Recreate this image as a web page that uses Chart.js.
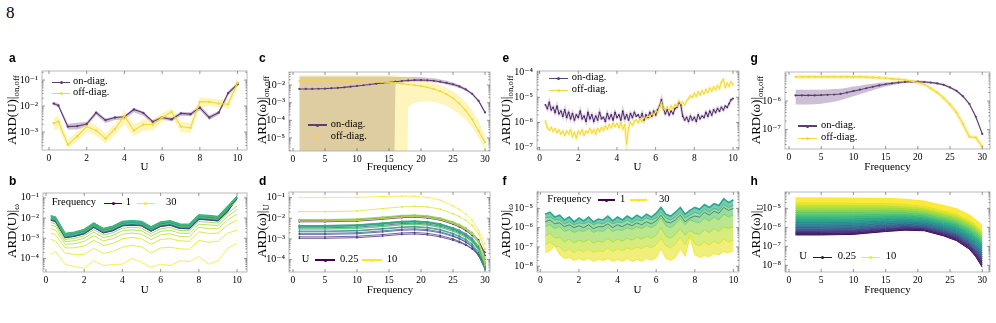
<!DOCTYPE html>
<html><head><meta charset="utf-8">
<script src="https://cdn.jsdelivr.net/npm/chart.js@4/dist/chart.umd.min.js"></script>
<style>
body{margin:0;background:#fff;width:996px;height:323px;position:relative;overflow:hidden;font-family:'Liberation Serif','DejaVu Serif',serif;}
canvas{position:absolute;}
.t{position:absolute;white-space:nowrap;color:#000;}
.lab{position:absolute;font-family:'Liberation Sans',Arial,sans-serif;font-weight:bold;font-size:12px;line-height:12px;}
sub{font-size:0.68em;vertical-align:-0.25em;}
</style></head><body>
<script>
// ---------------- DATA (log10 of the plotted values) ----------------
// Panel a: ARD(U) on/off diagonal vs U
const aU = [0.25,0.5,1,1.5,2,2.5,3,3.5,4,4.5,5,5.5,6,6.5,7,7.5,8,8.5,9,9.5,10];
const aOnLog   = [-1.9,-1.98,-2.79,-2.77,-2.69,-2.25,-2.54,-2.44,-2.41,-2.13,-2.26,-2.6,-2.44,-2.51,-2.28,-2.31,-2.06,-2.44,-2.25,-1.5,-1.16];
const aOnLoLog = [-1.97,-2.04,-2.9,-2.9,-2.78,-2.34,-2.65,-2.54,-2.52,-2.24,-2.37,-2.68,-2.52,-2.59,-2.37,-2.39,-2.16,-2.54,-2.33,-1.58,-1.25];
const aOnHiLog = [-1.84,-1.9,-2.68,-2.64,-2.6,-2.19,-2.48,-2.39,-2.37,-2.06,-2.22,-2.54,-2.37,-2.44,-2.22,-2.24,-1.98,-2.35,-2.19,-1.42,-1.1];
const aOffLog   = [-2.66,-2.59,-3.48,-3.16,-2.79,-2.94,-3.25,-2.88,-2.38,-2.94,-2.71,-2.71,-2.44,-2.23,-2.79,-2.84,-1.84,-1.84,-1.9,-1.93,-1.09];
const aOffLoLog = [-2.95,-2.85,-3.62,-3.35,-3.0,-3.15,-3.45,-3.1,-2.7,-3.15,-2.95,-2.92,-2.62,-2.4,-3.0,-3.05,-2.05,-2.0,-2.05,-2.1,-1.35];
const aOffHiLog = [-2.45,-2.35,-3.3,-2.98,-2.6,-2.74,-3.05,-2.7,-2.12,-2.72,-2.5,-2.52,-2.28,-2.08,-2.6,-2.64,-1.65,-1.7,-1.75,-1.76,-0.9];

// Panel c: ARD(omega) on/off diagonal vs frequency (1..30); -30 = bound below the axis
const cFreq = [1,2,3,4,5,6,7,8,9,10,11,12,13,14,15,16,17,18,19,20,21,22,23,24,25,26,27,28,29,30];
const cOnLog   = [-2.22,-2.22,-2.22,-2.21,-2.2,-2.18,-2.16,-2.13,-2.09,-2.05,-2.01,-1.97,-1.92,-1.88,-1.85,-1.81,-1.77,-1.74,-1.72,-1.72,-1.73,-1.76,-1.81,-1.88,-1.96,-2.08,-2.25,-2.5,-2.9,-3.55];
const cOnHiLog = [-1.52,-1.52,-1.52,-1.52,-1.52,-1.52,-1.52,-1.52,-1.52,-1.52,-1.52,-1.52,-1.52,-1.52,-1.52,-1.55,-1.55,-1.55,-1.55,-1.56,-1.58,-1.62,-1.68,-1.76,-1.86,-1.99,-2.17,-2.43,-2.84,-3.5];
const cOnLoLog = [-30,-30,-30,-30,-30,-30,-30,-30,-30,-30,-30,-30,-30,-30,-30,-1.95,-1.86,-1.82,-1.8,-1.8,-1.81,-1.84,-1.9,-1.97,-2.05,-2.17,-2.33,-2.57,-2.96,-3.6];
const cOffLog   = [-1.78,-1.78,-1.78,-1.78,-1.78,-1.78,-1.78,-1.78,-1.78,-1.78,-1.79,-1.8,-1.81,-1.83,-1.85,-1.88,-1.92,-1.97,-2.01,-2.06,-2.13,-2.22,-2.35,-2.52,-2.75,-3.05,-3.45,-3.95,-4.6,-5.25];
const cOffHiLog = [-1.45,-1.45,-1.45,-1.45,-1.45,-1.45,-1.45,-1.45,-1.45,-1.45,-1.45,-1.45,-1.45,-1.45,-1.45,-1.45,-1.5,-1.55,-1.62,-1.7,-1.78,-1.88,-2.0,-2.15,-2.35,-2.62,-2.98,-3.45,-4.05,-4.85];
const cOffLoLog = [-30,-30,-30,-30,-30,-30,-30,-30,-30,-30,-30,-30,-30,-30,-30,-30,-30,-3.25,-3.0,-2.93,-2.92,-2.96,-3.05,-3.2,-3.4,-3.65,-3.98,-4.42,-5.0,-5.65];

// Panel g: second dataset, ARD(omega) on/off vs frequency
const gFreq = [1,2,3,4,5,6,7,8,9,10,11,12,13,14,15,16,17,18,19,20,21,22,23,24,25,26,27,28,29,30];
const gOnLog   = [-5.8,-5.8,-5.8,-5.8,-5.79,-5.78,-5.77,-5.75,-5.7,-5.65,-5.6,-5.55,-5.5,-5.45,-5.41,-5.38,-5.35,-5.33,-5.32,-5.32,-5.33,-5.35,-5.38,-5.43,-5.52,-5.64,-5.83,-6.1,-6.55,-7.15];
const gOnHiLog = [-5.6,-5.6,-5.6,-5.6,-5.6,-5.59,-5.58,-5.57,-5.53,-5.49,-5.46,-5.42,-5.39,-5.36,-5.34,-5.32,-5.3,-5.29,-5.28,-5.28,-5.29,-5.31,-5.34,-5.39,-5.48,-5.6,-5.79,-6.06,-6.51,-7.1];
const gOnLoLog = [-6.12,-6.12,-6.12,-6.11,-6.09,-6.06,-6.02,-5.97,-5.9,-5.83,-5.76,-5.69,-5.62,-5.55,-5.49,-5.44,-5.4,-5.37,-5.36,-5.36,-5.37,-5.39,-5.42,-5.47,-5.56,-5.68,-5.87,-6.14,-6.6,-7.2];
const gOffLog  = [-5.15,-5.15,-5.15,-5.15,-5.15,-5.15,-5.15,-5.15,-5.15,-5.15,-5.15,-5.16,-5.17,-5.18,-5.2,-5.22,-5.24,-5.26,-5.3,-5.35,-5.42,-5.55,-5.7,-5.89,-6.12,-6.4,-6.8,-7.25,-7.28,-7.6];

// Panel e: second dataset, ARD(U) on/off vs U (U = 0.3 ... 10.0, step 0.1)
const eUStart = 0.3, eUStep = 0.1;
const eOnLog = [-5.3,-5.45,-5.2,-5.5,-5.4,-5.6,-5.35,-5.65,-5.55,-5.75,
 -5.5,-5.8,-5.6,-5.85,-5.65,-5.9,-5.7,-5.8,-5.55,-5.85,
 -5.75,-5.95,-5.6,-5.85,-5.7,-5.95,-5.75,-5.9,-5.6,-5.85,
 -5.8,-5.95,-5.65,-5.85,-5.7,-5.9,-5.6,-5.8,-5.7,-5.9,
 -5.55,-5.85,-5.7,-5.9,-5.65,-5.8,-5.6,-5.75,-5.7,-5.85,
 -5.65,-5.9,-5.7,-5.8,-5.6,-5.75,-5.55,-5.7,-5.5,-5.35,
 -5.1,-5.45,-5.65,-5.5,-5.7,-5.55,-5.65,-5.45,-5.4,-5.2,
 -5.3,-5.75,-5.9,-5.8,-5.95,-5.75,-5.9,-5.8,-5.95,-5.7,
 -5.85,-5.75,-5.8,-5.6,-5.75,-5.55,-5.7,-5.5,-5.6,-5.45,
 -5.55,-5.4,-5.5,-5.35,-5.4,-5.25,-5.1,-5.05];
const eOffLog = [-5.95,-6.2,-6.3,-6.2,-6.35,-6.25,-6.4,-6.3,-6.45,-6.35,
 -6.5,-6.35,-6.45,-6.3,-6.55,-6.4,-6.6,-6.35,-6.45,-6.3,
 -6.5,-6.35,-6.4,-6.25,-6.4,-6.3,-6.45,-6.25,-6.35,-6.2,
 -6.3,-6.15,-6.25,-6.1,-6.2,-6.05,-6.15,-6.05,-6.2,-6.0,
 -6.25,-6.1,-6.85,-6.2,-6.0,-6.1,-5.95,-5.9,-6.0,-5.85,
 -5.95,-5.8,-5.85,-5.75,-5.8,-5.65,-5.7,-5.55,-5.6,-5.4,
 -5.2,-5.45,-5.5,-5.4,-5.5,-5.35,-5.45,-5.3,-5.35,-5.15,
 -5.25,-5.2,-5.3,-5.15,-5.05,-4.95,-5.0,-4.85,-4.95,-4.8,
 -4.9,-4.75,-4.85,-4.7,-4.8,-4.65,-4.75,-4.6,-4.7,-4.55,
 -4.65,-4.4,-4.3,-4.6,-4.45,-4.55,-4.4,-4.5];

// Panels b & d: ARD per (U row, frequency column)
const bdU = [0.25,0.5,1,1.5,2,2.5,3,3.5,4,4.5,5,5.5,6,6.5,7,7.5,8,8.5,9,9.5,10];
const bdFreq = [1,5,10,14,17,19,21,23,25,26,27,28,29,30];
const bdLog = [
 [-2.1,-2.1,-2.07,-1.98,-1.9,-1.88,-1.92,-2.02,-2.22,-2.35,-2.52,-2.75,-3.05,-3.8],
 [-2.17,-2.17,-2.14,-2.05,-1.97,-1.95,-1.99,-2.09,-2.29,-2.42,-2.6,-2.83,-3.15,-3.65],
 [-2.97,-2.97,-2.94,-2.86,-2.78,-2.76,-2.8,-2.9,-3.06,-3.17,-3.3,-3.48,-3.75,-4.3],
 [-2.9,-2.9,-2.87,-2.79,-2.71,-2.69,-2.73,-2.83,-3.0,-3.12,-3.27,-3.47,-3.8,-4.4],
 [-2.78,-2.78,-2.75,-2.66,-2.58,-2.56,-2.6,-2.7,-2.88,-3.0,-3.16,-3.38,-3.8,-4.48],
 [-2.46,-2.46,-2.43,-2.34,-2.26,-2.24,-2.28,-2.38,-2.57,-2.7,-2.87,-3.1,-3.5,-4.12],
 [-2.73,-2.73,-2.7,-2.61,-2.53,-2.51,-2.55,-2.65,-2.84,-2.97,-3.13,-3.36,-3.75,-4.35],
 [-2.62,-2.62,-2.59,-2.5,-2.42,-2.4,-2.44,-2.54,-2.73,-2.86,-3.02,-3.25,-3.65,-4.3],
 [-2.38,-2.38,-2.35,-2.26,-2.18,-2.16,-2.2,-2.3,-2.5,-2.63,-2.8,-3.03,-3.45,-4.28],
 [-2.35,-2.35,-2.32,-2.23,-2.15,-2.13,-2.17,-2.27,-2.46,-2.58,-2.74,-2.96,-3.35,-4.0],
 [-2.38,-2.38,-2.35,-2.26,-2.18,-2.16,-2.2,-2.3,-2.5,-2.63,-2.8,-3.03,-3.43,-4.19],
 [-2.65,-2.65,-2.62,-2.53,-2.45,-2.43,-2.47,-2.57,-2.77,-2.9,-3.07,-3.3,-3.72,-4.44],
 [-2.41,-2.41,-2.38,-2.29,-2.21,-2.19,-2.23,-2.33,-2.53,-2.66,-2.83,-3.06,-3.48,-4.28],
 [-2.35,-2.35,-2.32,-2.23,-2.15,-2.13,-2.17,-2.27,-2.47,-2.6,-2.78,-3.02,-3.45,-4.35],
 [-2.51,-2.51,-2.48,-2.39,-2.31,-2.29,-2.33,-2.43,-2.62,-2.75,-2.91,-3.13,-3.52,-4.12],
 [-2.53,-2.53,-2.5,-2.41,-2.32,-2.3,-2.34,-2.44,-2.63,-2.76,-2.93,-3.15,-3.55,-4.15],
 [-2.06,-2.06,-2.03,-1.94,-1.86,-1.84,-1.88,-1.98,-2.17,-2.3,-2.46,-2.68,-3.1,-3.91],
 [-2.09,-2.09,-2.06,-1.97,-1.89,-1.87,-1.91,-2.01,-2.21,-2.34,-2.52,-2.76,-3.2,-4.28],
 [-2.14,-2.14,-2.11,-2.02,-1.94,-1.92,-1.96,-2.06,-2.25,-2.37,-2.53,-2.75,-3.15,-4.12],
 [-1.68,-1.68,-1.65,-1.53,-1.45,-1.42,-1.45,-1.56,-1.78,-1.92,-2.1,-2.35,-2.75,-3.5],
 [-1.0,-1.0,-0.99,-0.95,-0.93,-0.94,-0.99,-1.12,-1.4,-1.58,-1.8,-2.1,-2.6,-3.25]
];

// Panel f: second dataset, ARD(U) per frequency (U = 0.25 ... 10, step 0.25)
const fUStep = 0.25;
const fFreq = [1,18,22,25,27,29,30];
const fLog = [
 [-5.7,-5.6,-5.8,-5.75,-5.95,-5.85,-6.0,-5.9,-6.0,-5.85,-6.05,-5.95,-5.95,-5.8,-6.0,-5.85,-5.95,-5.8,-5.9,-5.75,-5.85,-5.7,-5.8,-5.65,-5.35,-5.7,-5.75,-5.6,-5.35,-5.7,-5.5,-5.4,-5.45,-5.2,-5.35,-5.15,-5.25,-4.95,-5.1,-5.0],
 [-5.3,-5.2,-5.45,-5.35,-5.6,-5.45,-5.7,-5.5,-5.65,-5.45,-5.7,-5.55,-5.6,-5.4,-5.65,-5.45,-5.6,-5.4,-5.55,-5.35,-5.5,-5.3,-5.45,-5.25,-4.95,-5.3,-5.4,-5.2,-4.95,-5.3,-5.1,-4.95,-5.05,-4.8,-4.95,-4.75,-4.85,-4.5,-4.7,-4.55],
 [-5.5,-5.45,-5.6,-5.6,-5.8,-5.7,-5.85,-5.75,-5.8,-5.7,-5.85,-5.75,-5.8,-5.65,-5.8,-5.7,-5.75,-5.6,-5.75,-5.6,-5.65,-5.5,-5.6,-5.5,-5.2,-5.5,-5.6,-5.45,-5.2,-5.5,-5.35,-5.2,-5.3,-5.05,-5.2,-5.0,-5.1,-4.8,-4.95,-4.85],
 [-5.95,-5.85,-6.05,-5.95,-6.2,-6.1,-6.25,-6.15,-6.2,-6.05,-6.25,-6.15,-6.2,-6.0,-6.2,-6.1,-6.15,-6.0,-6.1,-5.95,-6.05,-5.9,-6.0,-5.85,-5.5,-5.9,-6.0,-5.8,-5.55,-5.85,-5.6,-5.7,-5.75,-5.5,-5.65,-5.45,-5.6,-5.3,-5.45,-5.35],
 [-6.45,-6.3,-6.55,-6.5,-6.75,-6.6,-6.8,-6.65,-6.75,-6.6,-6.8,-6.7,-6.75,-6.55,-6.75,-6.6,-6.7,-6.55,-6.65,-6.5,-6.6,-6.45,-6.55,-6.4,-6.0,-6.45,-6.55,-6.35,-6.05,-6.4,-6.15,-6.3,-6.35,-6.1,-6.25,-6.05,-6.2,-5.95,-6.05,-5.95],
 [-6.9,-6.75,-6.95,-7.0,-7.25,-7.1,-7.3,-7.15,-7.25,-7.1,-7.3,-7.2,-7.25,-7.05,-7.25,-7.1,-7.2,-7.05,-7.15,-7.0,-7.1,-6.95,-7.05,-6.9,-6.55,-6.95,-7.05,-6.85,-6.5,-6.9,-6.4,-6.85,-6.95,-6.75,-6.9,-6.7,-6.85,-6.6,-6.75,-6.65],
 [-7.3,-7.2,-6.95,-7.4,-7.6,-7.55,-7.7,-7.6,-7.7,-7.6,-7.75,-7.65,-7.7,-7.6,-7.75,-7.65,-7.75,-7.6,-7.75,-7.65,-7.75,-7.6,-7.7,-7.55,-7.1,-7.6,-7.7,-7.55,-7.1,-7.5,-6.5,-7.4,-7.55,-7.45,-7.5,-7.35,-7.4,-7.25,-7.3,-7.2]
];

// Panel h: second dataset, ARD(omega) per U
const hU = [0.5,1,1.5,2,2.5,3,3.5,4,4.5,5,5.5,6,6.5,7,7.5,8,8.5,9,9.5,10];
const hFreq = [1,5,10,15,18,21,24,26,28,29,30];
const hLog = [
 [-6.4,-6.4,-6.37,-6.22,-6.15,-6.18,-6.45,-6.7,-7.15,-7.55,-8.1],
 [-6.33,-6.33,-6.3,-6.16,-6.09,-6.12,-6.38,-6.62,-7.06,-7.45,-7.95],
 [-6.27,-6.27,-6.24,-6.1,-6.04,-6.07,-6.32,-6.56,-6.99,-7.37,-7.85],
 [-6.21,-6.21,-6.19,-6.06,-6.0,-6.03,-6.28,-6.5,-6.93,-7.3,-7.75],
 [-6.15,-6.15,-6.13,-6.01,-5.95,-5.99,-6.23,-6.45,-6.88,-7.22,-7.65],
 [-6.08,-6.08,-6.06,-5.95,-5.9,-5.94,-6.18,-6.4,-6.82,-7.15,-7.55],
 [-6.0,-6.0,-5.98,-5.88,-5.84,-5.88,-6.12,-6.34,-6.75,-7.07,-7.45],
 [-5.92,-5.92,-5.9,-5.81,-5.77,-5.82,-6.06,-6.27,-6.68,-6.98,-7.35],
 [-5.84,-5.84,-5.82,-5.74,-5.71,-5.76,-6.0,-6.2,-6.6,-6.9,-7.25],
 [-5.75,-5.75,-5.74,-5.67,-5.64,-5.69,-5.93,-6.13,-6.52,-6.8,-7.15],
 [-5.66,-5.66,-5.65,-5.59,-5.57,-5.63,-5.86,-6.05,-6.43,-6.7,-7.05],
 [-5.56,-5.56,-5.55,-5.5,-5.49,-5.55,-5.78,-5.97,-6.34,-6.6,-6.95],
 [-5.45,-5.45,-5.44,-5.4,-5.4,-5.47,-5.7,-5.88,-6.24,-6.5,-6.85],
 [-5.34,-5.34,-5.34,-5.31,-5.32,-5.39,-5.61,-5.79,-6.14,-6.4,-6.7],
 [-5.22,-5.22,-5.22,-5.2,-5.22,-5.3,-5.52,-5.7,-6.04,-6.28,-6.6],
 [-5.1,-5.1,-5.1,-5.09,-5.12,-5.2,-5.43,-5.6,-5.93,-6.16,-6.5],
 [-4.97,-4.97,-4.97,-4.97,-5.01,-5.1,-5.33,-5.5,-5.82,-6.05,-6.4],
 [-4.84,-4.84,-4.84,-4.85,-4.9,-5.0,-5.23,-5.4,-5.72,-5.95,-6.3],
 [-4.7,-4.7,-4.71,-4.72,-4.77,-4.88,-5.12,-5.29,-5.62,-5.85,-6.2],
 [-4.45,-4.45,-4.46,-4.47,-4.52,-4.62,-4.85,-5.02,-5.35,-5.6,-5.9]
];

// tick labels
const uTicks = [0,2,4,6,8,10];
const freqTicks = [0,5,10,15,20,25,30];
const aYExp = [-1,-2,-3], bYExp = [-1,-2,-3,-4], cYExp = [-2,-3,-4,-5], dYExp = [-1,-2,-3,-4];
const eYExp = [-4,-5,-6,-7], fYExp = [-5,-6,-7,-8], gYExp = [-6,-7], hYExp = [-5,-6,-7,-8];

// ---------------- STYLE / LAYOUT ----------------
const FONT = "'Liberation Serif','DejaVu Serif',serif";
const ON_LINE = '#5e3b78', OFF_LINE = '#f2d83a';
const ON_BAND = 'rgba(105,65,125,0.33)', OFF_BAND = 'rgba(250,226,70,0.36)';
const VIR = ['#440154','#482475','#414487','#355f8d','#2a788e','#21918c','#22a884','#44bf70','#7ad151','#bddf26','#fde725'];
function rgb(h){return [1,3,5].map(i=>parseInt(h.slice(i,i+2),16));}
function vir(t,a){t=Math.max(0,Math.min(1,t));const p=t*10,i=Math.min(9,Math.floor(p)),f=p-i;const c0=rgb(VIR[i]),c1=rgb(VIR[i+1]);const c=c0.map((v,k)=>Math.round(v+(c1[k]-v)*f));return `rgba(${c[0]},${c[1]},${c[2]},${a===undefined?1:a})`;}
const pw = v => Math.pow(10, v);
const pts = (xs, logs) => logs.map((v,i)=>({x:xs[i], y:pw(v)}));
const SUP = {'-':'⁻','0':'⁰','1':'¹','2':'²','3':'³','4':'⁴','5':'⁵','6':'⁶','7':'⁷','8':'⁸','9':'⁹'};
const supExp = v => '10' + String(Math.round(Math.log10(v))).split('').map(c=>SUP[c]).join('');

const PAD_T = 8, PAD_R = 8, Y_W = 30, X_H = 16, TICK_FS = 9.5;
const geom = {
  a:{l:42,t:69,r:247,b:150, xmin:-0.37,xmax:10.5, ymin:-3.69,ymax:-0.65},
  b:{l:42.7,t:191,r:246.7,b:272.3, xmin:-0.157,xmax:10.52, ymin:-4.67,ymax:-0.76},
  c:{l:289.3,t:70,r:490.7,b:150.7, xmin:-0.62,xmax:30.78, ymin:-5.74,ymax:-1.26},
  d:{l:289.3,t:190,r:490.7,b:271.7, xmin:-0.62,xmax:30.78, ymin:-4.6,ymax:-0.73},
  e:{l:536.7,t:69,r:738.3,b:150, xmin:-0.135,xmax:10.31, ymin:-7.09,ymax:-3.96},
  f:{l:536.7,t:190,r:738.3,b:271.7, xmin:-0.17,xmax:10.29, ymin:-8.3,ymax:-4.15},
  g:{l:785,t:70,r:990,b:149.3, xmin:-0.62,xmax:31.2, ymin:-7.68,ymax:-4.98},
  h:{l:785,t:190,r:990,b:271.7, xmin:-0.62,xmax:31.2, ymin:-8.35,ymax:-4.14}
};

const framePlugin = {
  id:'frame',
  afterDraw(chart){
    const {ctx, chartArea:{left,right,top,bottom}, scales:{x,y}} = chart;
    ctx.save();
    ctx.strokeStyle='#a8a8a8'; ctx.lineWidth=0.8;
    ctx.strokeRect(left,top,right-left,bottom-top);
    ctx.strokeStyle='#666'; ctx.lineWidth=0.7;
    const seg=(x1,y1,x2,y2)=>{ctx.beginPath();ctx.moveTo(x1,y1);ctx.lineTo(x2,y2);ctx.stroke();};
    x.ticks.forEach(t=>{const p=x.getPixelForValue(t.value); seg(p,bottom,p,bottom-3); seg(p,top,p,top+3);});
    y.ticks.forEach(t=>{const p=y.getPixelForValue(t.value); seg(left,p,left+3,p); seg(right,p,right-3,p);});
    const lo=Math.floor(Math.log10(y.min)), hi=Math.ceil(Math.log10(y.max));
    for(let d=lo; d<=hi; d++) for(let k=2;k<=9;k++){const v=k*Math.pow(10,d); if(v<=y.min||v>=y.max) continue; const p=y.getPixelForValue(v); seg(left,p,left+1.6,p); seg(right,p,right-1.6,p);}
    ctx.restore();
  }
};

function panel(key, datasets, xTicks, yExp){
  const g = geom[key];
  const c = document.createElement('canvas');
  const W = Math.round(g.r-g.l+Y_W+PAD_R), H = Math.round(g.b-g.t+PAD_T+X_H);
  c.width=W; c.height=H; c.style.width=W+'px'; c.style.height=H+'px';
  c.style.left=(g.l-Y_W)+'px'; c.style.top=(g.t-PAD_T)+'px';
  document.body.appendChild(c);
  const N = datasets.length;
  datasets.forEach((d,i)=>{ if(d.order===undefined) d.order = N-i; });
  new Chart(c,{type:'line', data:{datasets}, options:{
    responsive:false, animation:false, devicePixelRatio:1, parsing:true,
    layout:{padding:{left:0,top:PAD_T,right:PAD_R,bottom:0}},
    plugins:{legend:{display:false}, tooltip:{enabled:false}},
    elements:{line:{tension:0}, point:{radius:0, hitRadius:0}},
    scales:{
      x:{type:'linear', min:g.xmin, max:g.xmax, grid:{display:false, drawTicks:false}, border:{display:false},
         afterBuildTicks:s=>{s.ticks = xTicks.map(v=>({value:v}));},
         afterFit:s=>{s.height=X_H;},
         ticks:{font:{family:FONT,size:TICK_FS}, color:'#000', padding:3, maxRotation:0, autoSkip:false, callback:v=>String(v)}},
      y:{type:'logarithmic', min:pw(g.ymin), max:pw(g.ymax), grid:{display:false, drawTicks:false}, border:{display:false},
         afterBuildTicks:s=>{s.ticks = yExp.map(e=>({value:pw(e)}));},
         afterFit:s=>{s.width=Y_W;},
         ticks:{font:{family:FONT,size:TICK_FS+0.5}, color:'#000', padding:4, autoSkip:false, callback:v=>supExp(v)}}
    }}, plugins:[framePlugin]});
}

const line = (data,color,w,r,extra) => Object.assign({data, borderColor:color, backgroundColor:color, pointBackgroundColor:color, pointBorderWidth:0, borderWidth:w, pointRadius:r, fill:false}, extra||{});
const bandLo = data => ({data, borderWidth:0, pointRadius:0, fill:false, borderColor:'rgba(0,0,0,0)'});
const bandHi = (data,col) => ({data, borderWidth:0, pointRadius:0, fill:'-1', backgroundColor:col, borderColor:'rgba(0,0,0,0)'});

// ---- a
panel('a', [
  bandLo(pts(aU,aOnLoLog)), bandHi(pts(aU,aOnHiLog),ON_BAND),
  bandLo(pts(aU,aOffLoLog)), bandHi(pts(aU,aOffHiLog),OFF_BAND),
  line(pts(aU,aOnLog),ON_LINE,1.1,1.2),
  line(pts(aU,aOffLog),OFF_LINE,1.1,1.2)
], uTicks, aYExp);

// ---- c
panel('c', [
  bandLo(pts(cFreq,cOnLoLog)), bandHi(pts(cFreq,cOnHiLog),ON_BAND),
  bandLo(pts(cFreq,cOffLoLog)), bandHi(pts(cFreq,cOffHiLog),OFF_BAND),
  line(pts(cFreq,cOnLog),ON_LINE,1.1,1.1),
  line(pts(cFreq,cOffLog),OFF_LINE,1.1,1.1)
], freqTicks, cYExp);

// ---- e
const eU = eOnLog.map((_,i)=>+(eUStart+eUStep*i).toFixed(2));
panel('e', [
  line(pts(eU,eOnLog),'rgba(200,180,210,0.6)',3,0),
  line(pts(eU,eOffLog),'rgba(252,238,140,0.6)',3,0),
  line(pts(eU,eOnLog),'#4d2a66',1,0.9),
  line(pts(eU,eOffLog),'#f2d936',1,0.9)
], uTicks, eYExp);

// ---- g
panel('g', [
  bandLo(pts(gFreq,gOnLoLog)), bandHi(pts(gFreq,gOnHiLog),ON_BAND),
  line(pts(gFreq,gOffLog),'rgba(250,230,90,0.45)',4,0),
  line(pts(gFreq,gOnLog),ON_LINE,1.1,1.1),
  line(pts(gFreq,gOffLog),OFF_LINE,1.1,1.1)
], freqTicks, gYExp);

// ---- b (one line per frequency)
panel('b', bdFreq.map((f,j)=>{
  const t=(f-1)/29, col=vir(t,0.9);
  const cluster = f>1 && f<=21;
  return line(bdU.map((u,i)=>({x:u,y:pw(bdLog[i][j])})), col, cluster?1.2:0.9, 0,
     cluster?{fill:'-1', backgroundColor:vir(t,0.8)}:{});
}), uTicks, bYExp);

// ---- d (one line per U)
panel('d', bdU.map((u,i)=>{
  const t=i/(bdU.length-1);
  return line(bdFreq.map((f,j)=>({x:f,y:pw(bdLog[i][j])})), vir(t,0.85), 0.9, 0.9);
}), freqTicks, dYExp);

// ---- f (one line per frequency, filled between neighbours)
const fU = fLog[0].map((_,i)=>fUStep*(i+1));
const fOrder = [0,6,5,4,3,2,1]; // bottom layer first
panel('f', fOrder.map((j,k)=>{
  const t=(fFreq[j]-1)/29;
  return line(pts(fU,fLog[j]), vir(t,0.95), j===1?1.6:0.9, 0, (k>=2)?{fill:'-1', backgroundColor:vir(t,0.6)}:{});
}), uTicks, fYExp);

// ---- h (one line per U, filled between neighbours)
panel('h', hU.map((u,i)=>{
  const t=i/(hU.length-1);
  return line(pts(hFreq,hLog[i]), vir(t,1), 1, 0, i>0?{fill:'-1', backgroundColor:vir(t,0.9)}:{});
}), freqTicks, hYExp);

// ---------------- TEXT OVERLAYS ----------------
function txt(x, cy, html, size, center){
  const d=document.createElement('div'); d.className='t';
  d.style.fontSize=size+'px'; d.style.lineHeight=(size*1.2)+'px';
  d.style.left=x+'px'; d.style.top=(cy-0.7*size)+'px';
  if(center) d.style.transform='translateX(-50%)';
  d.innerHTML=html; document.body.appendChild(d); return d;
}
function ytitle(cx, cy, html){
  const d=document.createElement('div'); d.className='t';
  d.style.fontSize='13px'; d.style.lineHeight='15px';
  d.style.left=cx+'px'; d.style.top=cy+'px';
  d.style.transform='translate(-50%,-50%) rotate(-90deg)';
  d.innerHTML=html; document.body.appendChild(d);
}
function letter(x, baseline, s){
  const d=document.createElement('div'); d.className='lab';
  d.style.left=x+'px'; d.style.top=(baseline-10.2)+'px'; d.textContent=s; document.body.appendChild(d);
}
function sample(x1,x2,cy,color,marker){
  const d=document.createElement('div');
  d.style.cssText=`position:absolute;left:${x1}px;top:${cy-0.75}px;width:${x2-x1}px;height:1.5px;background:${color}`;
  document.body.appendChild(d);
  if(marker){const m=document.createElement('div');
    m.style.cssText=`position:absolute;left:${(x1+x2)/2-1.5}px;top:${cy-1.5}px;width:3px;height:3px;border-radius:50%;background:${color}`;
    document.body.appendChild(m);}
}

// page number
const pn=document.createElement('div'); pn.className='t'; pn.style.cssText+='left:6px;top:3px;font-size:17px;'; pn.textContent='8'; document.body.appendChild(pn);

// panel letters
letter(9,62,'a'); letter(9,185,'b'); letter(259,62,'c'); letter(259,185,'d');
letter(502.5,62,'e'); letter(502.5,185,'f'); letter(750.5,62,'g'); letter(750.5,185,'h');

// y titles
ytitle(14,110,'ARD(U)|<sub>on,off</sub>');
ytitle(14,231,'ARD(U)|<sub>ω</sub>');
ytitle(264,110,'ARD(ω)|<sub>on,off</sub>');
ytitle(264,231,'ARD(ω)|<sub>U</sub>');
ytitle(508,110,'ARD(U)|<sub>on,off</sub>');
ytitle(508,231,'ARD(U)|<sub>ω</sub>');
ytitle(758,110,'ARD(ω)|<sub>on,off</sub>');
ytitle(758,231,'ARD(ω)|<sub>U</sub>');

// x titles
txt(144.5,167.5,'U',11,true); txt(144.7,290.5,'U',11,true);
txt(390,168,'Frequency',11,true); txt(390,291,'Frequency',11,true);
txt(637.5,167.5,'U',11,true); txt(637.5,290.5,'U',11,true);
txt(887.5,168,'Frequency',11,true); txt(887.5,291,'Frequency',11,true);

// legends (a, c, e, g)
[[52,70,82.3,93.3,73],[308,327,125,137.3,330.7],[549,568,78.3,90.7,571.7],[798,817,126,138.3,821]].forEach(L=>{
  sample(L[0],L[1],L[2],ON_LINE,true); txt(L[4],L[2],'on-diag.',10.5);
  sample(L[0],L[1],L[3],OFF_LINE,true); txt(L[4],L[3],'off-diag.',10.5);
});
// legends (b, f)
txt(51.7,203.3,'Frequency',10.5); sample(104,122,203.3,vir(0),true); txt(125.7,203.3,'1',10.5); sample(136.7,155,203.3,vir(1),true); txt(166,203.3,'30',10.5);
txt(547.3,200,'Frequency',10.5); sample(598,615,200,vir(0),true); txt(620,200,'1',10.5); sample(630,647,200,vir(1),true); txt(659,200,'30',10.5);
// legends (d, h)
txt(301.7,260,'U',10.5); sample(315,335,260,vir(0),true); txt(340,260,'0.25',10.5); sample(361.7,381.7,260,vir(1),true); txt(386.7,260,'10',10.5);
txt(799.3,257.7,'U',10.5); sample(812.7,831.7,257.7,vir(0),true); txt(837.7,257.7,'0.25',10.5); sample(861.7,880,257.7,vir(1),true); txt(885.7,257.7,'10',10.5);
</script>
</body></html>
